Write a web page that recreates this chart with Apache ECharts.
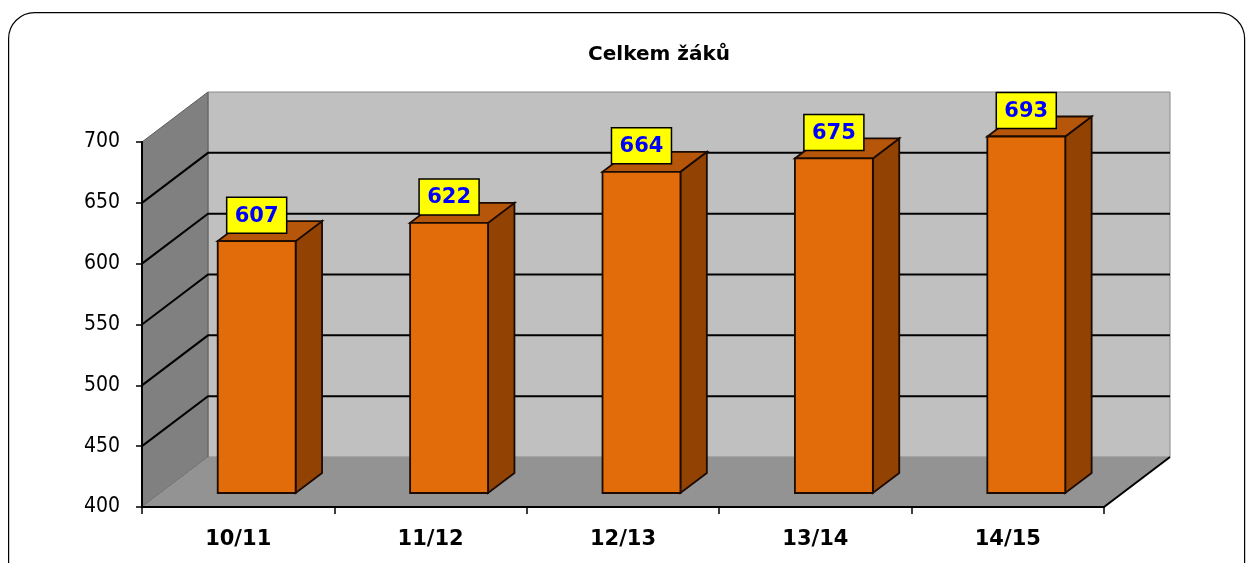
<!DOCTYPE html>
<html>
<head>
<meta charset="utf-8">
<script src="https://cdn.jsdelivr.net/npm/echarts@6/dist/echarts.min.js"></script>
<style>
	html, body { margin: 0; padding: 0; background: #fff; }
	#chart { width: 1254px; height: 563px; }
</style>
</head>
<body>
<div id="chart"></div>
<script>
	// data
	var categories = ['10/11', '11/12', '12/13', '13/14', '14/15'];
	var values = [607, 622, 664, 675, 693];
	var yTicks = [400, 450, 500, 550, 600, 650, 700];

	var FONT = '"DejaVu Sans Condensed", "DejaVu Sans", sans-serif';
	var FONT_B = '"DejaVu Sans", sans-serif';
	// 3D depth offset of the back plane (px)
	var DX = 66, DY = -50;
	var D0 = 0.28, D1 = 0.68; // bar front / back depth
	var BAR = 0.405; // bar width as share of band

	var myChart = echarts.init(document.getElementById('chart'));

	function renderWalls(params, api) {
		var cs = params.coordSys;
		var x0 = cs.x, x1 = cs.x + cs.width;
		var yt = api.coord([0, yTicks[yTicks.length - 1]])[1];
		var yb = api.coord([0, yTicks[0]])[1];
		var children = [];
		// back wall
		children.push({ type: 'rect', shape: { x: x0 + DX, y: yt + DY, width: x1 - x0, height: yb - yt },
			style: { fill: '#c0c0c0', stroke: '#8a8a8a', lineWidth: 1 } });
		// side wall
		children.push({ type: 'polygon', shape: { points: [[x0, yt], [x0 + DX, yt + DY], [x0 + DX, yb + DY], [x0, yb]] },
			style: { fill: '#808080', stroke: '#5a5a5a', lineWidth: 1 } });
		// floor
		children.push({ type: 'polygon', shape: { points: [[x0, yb], [x1, yb], [x1 + DX, yb + DY], [x0 + DX, yb + DY]] },
			style: { fill: '#939393' } });
		children.push({ type: 'line', shape: { x1: x1, y1: yb, x2: x1 + DX, y2: yb + DY },
			style: { stroke: '#000', lineWidth: 2 } });
		// gridlines
		for (var i = 1; i < yTicks.length - 1; i++) {
			var y = api.coord([0, yTicks[i]])[1];
			children.push({ type: 'polyline', shape: { points: [[x0, y], [x0 + DX, y + DY], [x1 + DX, y + DY]] },
				style: { stroke: '#000', lineWidth: 2, fill: null } });
		}
		return { type: 'group', children: children };
	}

	function renderBar(params, api) {
		var i = api.value(0), v = api.value(1);
		var top = api.coord([i, v]);
		var base = api.coord([i, yTicks[0]]);
		var w = api.size([1, 0])[0] * BAR;
		var xl = top[0] - w / 2, xr = top[0] + w / 2;
		var yv = top[1], yb = base[1];
		var fx = D0 * DX, fy = D0 * DY, bx = D1 * DX, by = D1 * DY;
		var edge = { stroke: '#1a0a00', lineWidth: 1.8 };
		var lw = 60, lh = 36;
		var lx = top[0] + fx - lw / 2, ly = yv + fy - 8 - lh;
		return {
			type: 'group',
			children: [
				{ type: 'polygon', shape: { points: [[xr + fx, yv + fy], [xr + bx, yv + by], [xr + bx, yb + by], [xr + fx, yb + fy]] },
					style: Object.assign({ fill: '#924304' }, edge) },
				{ type: 'polygon', shape: { points: [[xl + fx, yv + fy], [xr + fx, yv + fy], [xr + bx, yv + by], [xl + bx, yv + by]] },
					style: Object.assign({ fill: '#b5560a' }, edge) },
				{ type: 'rect', shape: { x: xl + fx, y: yv + fy, width: w, height: yb - yv },
					style: Object.assign({ fill: '#e36c0a' }, edge) },
				{ type: 'rect', shape: { x: lx, y: ly, width: lw, height: lh },
					style: { fill: '#ffff00', stroke: '#000', lineWidth: 1.5 } },
				{ type: 'text', style: { x: lx + lw / 2, y: ly + lh / 2 + 1, text: String(v), fill: '#0000ff',
					font: 'bold 21px ' + FONT_B, align: 'center', verticalAlign: 'middle' } }
			]
		};
	}

	var barData = values.map(function (v, i) { return [i, v]; });

	myChart.setOption({
		animation: false,
		title: {
			text: 'Celkem žáků',
			left: 654, top: 40,
			textAlign: 'center',
			textStyle: { fontFamily: FONT_B, fontWeight: 'bold', fontSize: 20, color: '#000' }
		},
		graphic: [{
			type: 'rect', left: 8, top: 12, z: -10,
			shape: { width: 1236, height: 600, r: 26 },
			style: { fill: '#fff', stroke: '#000', lineWidth: 1.2 }
		}],
		grid: { left: 142, right: 150, top: 142, bottom: 56 },
		xAxis: {
			type: 'category',
			data: categories,
			axisLine: { lineStyle: { color: '#000', width: 2 } },
			axisTick: { show: true, length: 7, lineStyle: { color: '#000', width: 1.5 } },
			axisLabel: { margin: 22, color: '#000', fontFamily: FONT_B, fontWeight: 'bold', fontSize: 21 },
			z: 5
		},
		yAxis: {
			type: 'value',
			min: 400, max: 700, interval: 50,
			axisLine: { show: true, lineStyle: { color: '#000', width: 2 } },
			axisTick: { show: true, length: 6, lineStyle: { color: '#000', width: 1.5 } },
			axisLabel: { margin: 22, color: '#000', fontFamily: FONT, fontSize: 21 },
			splitLine: { show: false },
			z: 5
		},
		series: [{
			type: 'custom',
			renderItem: renderWalls,
			data: [[0, yTicks[0]]],
			z: 1,
			silent: true
		}, {
			type: 'custom',
			renderItem: renderBar,
			data: barData,
			encode: { x: 0, y: 1 },
			z: 3
		}]
	});
</script>
</body>
</html>
